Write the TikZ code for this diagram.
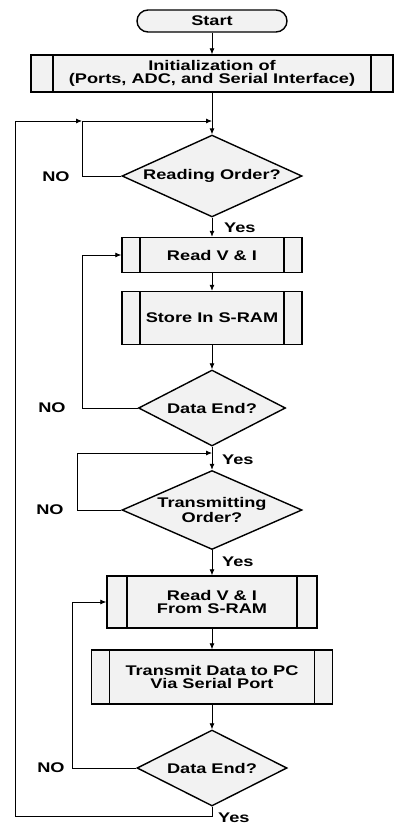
\documentclass[tikz,border=0pt]{standalone}
\usepackage{fontspec}
\newfontfamily\flowfont{Liberation Sans}[FakeStretch=1.3]
\usetikzlibrary{arrows.meta, shapes.geometric}
\newcommand{\flowtext}{\flowfont\bfseries\fontsize{14}{12.5}\selectfont}

\begin{document}
\begin{tikzpicture}[x=1pt, y=-1pt,
		box/.style = {draw, line width=1.4pt, fill=gray!10,
					inner sep=0pt, align=center, font=\flowtext},
		terminal/.style = {box, rounded corners=11pt,
					minimum width=150pt, minimum height=22pt},
		subproc/.style = {box, path picture={
			\draw[line width=1.2pt] ([xshift=#1]path picture bounding box.north west) -- ([xshift=#1]path picture bounding box.south west);
			\draw[line width=1.2pt] ([xshift=-#1]path picture bounding box.north east) -- ([xshift=-#1]path picture bounding box.south east);}},
		subproc/.default = 18pt,
		decision/.style = {box, diamond, aspect=2},
		answer/.style = {font=\flowtext, inner sep=0pt},
		arrow/.style = {-{Latex[length=6pt, width=5pt]}, line width=0.8pt},
		line/.style = {line width=0.8pt}
		]

    \useasboundingbox (0,0) rectangle (398,827);

%Boxes
    \node[terminal] (start) at (212,21) {Start};
    \node[subproc=22pt, minimum width=362pt, minimum height=37pt] (init) at (212,73.5)
        {Initialization of\\(Ports, ADC, and Serial Interface)};
    \node[decision, minimum width=180pt, minimum height=75pt] (read) at (212,176) {Reading Order?};
    \node[subproc, minimum width=180pt, minimum height=35pt] (rvi) at (212,255) {Read V \& I};
    \node[subproc, minimum width=180pt, minimum height=53pt] (store) at (212,318) {Store In S-RAM};
    \node[decision, minimum width=147pt, minimum height=76pt] (end1) at (212,408) {Data End?};
    \node[decision, minimum width=180pt, minimum height=75pt] (trans) at (212,510) {Transmitting\\Order?};
    \node[subproc=20pt, minimum width=210pt, minimum height=52pt] (rfs) at (212,602) {Read V \& I\\From S-RAM};
    \node[subproc, minimum width=241pt, minimum height=54pt] (send) at (212,677) {Transmit Data to PC\\Via Serial Port};
    \node[decision, minimum width=150pt, minimum height=76pt] (end2) at (212,768) {Data End?};

%Junctions and corners
    \coordinate (j1) at (212,121);
    \coordinate (j2) at (212,453);
    \coordinate (j3) at (212,816);
    \coordinate (loop0) at (15,121);
    \coordinate (loop1) at (82,121);
    \coordinate (loop2) at (82,255);
    \coordinate (loop3) at (77,453);
    \coordinate (loop4) at (72,602);

%Labels
    \node[answer] (no1) at (56,177) {NO};
    \node[answer] (no2) at (52,408) {NO};
    \node[answer] (no3) at (50,510) {NO};
    \node[answer] (no4) at (51,768) {NO};
    \node[answer, anchor=west] (yes1) at (224,228) {Yes};
    \node[answer, anchor=west] (yes2) at (222,460) {Yes};
    \node[answer, anchor=west] (yes3) at (222,562) {Yes};
    \node[answer, anchor=west] (yes4) at (218,818) {Yes};

%Main flow
    \draw[arrow] (start) -- (init);
    \draw[line] (init) -- (j1);
    \draw[arrow] (j1) -- (read);
    \draw[arrow] (read) -- (rvi);
    \draw[arrow] (rvi) -- (store);
    \draw[arrow] (store) -- (end1);
    \draw[line] (end1) -- (j2);
    \draw[arrow] (j2) -- (trans);
    \draw[arrow] (trans) -- (rfs);
    \draw[arrow] (rfs) -- (send);
    \draw[arrow] (send) -- (end2);

%NO loops
    \draw[arrow] (read.west) -| (loop1) -- (j1);
    \draw[arrow] (end1.west) -| (loop2) -- (rvi.west);
    \draw[arrow] (trans.west) -| (loop3) -- (j2);
    \draw[arrow] (end2.west) -| (loop4) -- (rfs.west);

%Back to start of reading
    \draw[arrow] (end2.south) -- (j3) -| (loop0) -- (loop1);

\end{tikzpicture}
\end{document}
